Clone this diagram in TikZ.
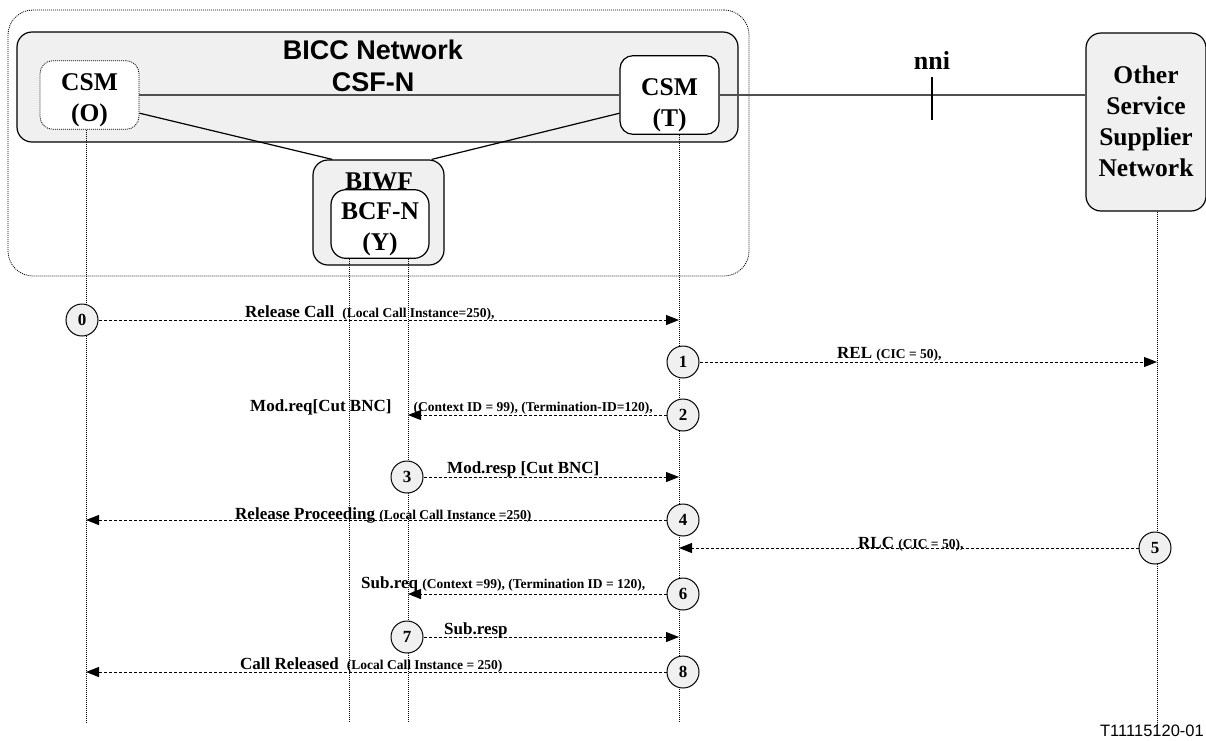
\documentclass[tikz,border=0pt]{standalone}
\usepackage{fontspec}
\setmainfont{Liberation Serif}
\newfontfamily\arialfont{Liberation Sans}
\usetikzlibrary{arrows.meta,positioning}
\definecolor{boxfill}{HTML}{F0F0F0}
\definecolor{linkgray}{HTML}{505050}
\newcommand\argtext[1]{{\fontsize{13.5}{15}\selectfont #1}}

\begin{document}
\begin{tikzpicture}[x=1pt,y=-1pt,
  entity/.style={draw,rounded corners=13pt,line width=1.2pt,align=center,
    font=\fontsize{25.5}{31}\selectfont\bfseries},
  lifeline/.style={line width=0.9pt,dash pattern=on 1pt off 1pt},
  msg/.style={line width=1pt,dash pattern=on 3pt off 2pt,
    -{Triangle[length=13pt,width=10pt]}},
  numdot/.style={circle,draw,fill=boxfill,line width=1pt,minimum size=32pt,
    inner sep=0pt,font=\fontsize{17}{17}\selectfont\bfseries},
  msglabel/.style={anchor=base west,inner sep=0pt,
    font=\fontsize{17}{20}\selectfont\bfseries}]
  \useasboundingbox (0,0) rectangle (1206,740);
  % network boxes
  \node[draw,rounded corners=25pt,line width=0.8pt,dash pattern=on 1pt off 1pt,
    minimum width=741pt,minimum height=266pt] (domain) at (378.5,143) {};
  \node[entity,fill=boxfill,rounded corners=15pt,
    minimum width=721pt,minimum height=110pt] (bicc) at (377.5,87) {};
  \node[align=center,font=\arialfont\fontsize{27}{32}\selectfont\bfseries]
    (biccname) at (373,66) {BICC Network\\CSF-N};
  \node[entity,fill=white,line width=0.8pt,dash pattern=on 1pt off 1pt,
    minimum width=99pt,minimum height=66pt,text height=57pt,text depth=5pt]
    (csmO) at (89.5,95) {CSM\\(O)};
  \node[entity,fill=white,minimum width=99pt,minimum height=66pt,
    text height=67pt,text depth=5pt] (csmT) at (669.5,95) {CSM\\(T)};
  \node[entity,fill=boxfill,rounded corners=15pt,minimum width=120pt,
    minimum height=178pt,text height=113pt,text depth=5pt]
    (other) at (1146,122) {Other\\Service\\Supplier\\Network};
  \node[entity,fill=boxfill,rounded corners=15pt,minimum width=131pt,
    minimum height=105pt] (biwf) at (378.5,212.5) {};
  \node[anchor=base,inner sep=0pt,font=\fontsize{25.5}{31}\selectfont\bfseries]
    (biwfname) at (379,189) {BIWF};
  \node[entity,fill=white,rounded corners=15pt,minimum width=98pt,
    minimum height=64pt,text height=57pt,text depth=5pt]
    (bcf) at (380,224) {BCF-N\\(Y)};
  % links between the functions
  \draw[linkgray,line width=1.6pt] (csmO.east) -- (csmT.west);
  \draw[linkgray,line width=1.6pt] (csmT.east) -- (csmT.east -| other.west);
  \draw[line width=1.2pt] (csmO.-20) -- (biwf.131);
  \draw[line width=1.2pt] (csmT.200) -- (biwf.45.5);
  \coordinate (nni) at (932,95);
  \draw[line width=1.2pt] (nni) ++(0,-18) coordinate (nnitop) -- ++(0,43);
  \node[above=7pt of nnitop,inner sep=0pt,font=\fontsize{26}{30}\selectfont\bfseries]
    (nnilabel) {nni};
  % lifelines
  \coordinate (endO) at (86,722);
  \coordinate (endYl) at (349,722);
  \coordinate (endYr) at (408,722);
  \coordinate (endT) at (679,722);
  \coordinate (endX) at (1157,725);
  \draw[lifeline] (csmO.south -| endO) -- (endO);
  \draw[lifeline] (bcf.south -| endYl) -- (endYl);
  \draw[lifeline] (bcf.south -| endYr) -- (endYr);
  \draw[lifeline] (csmT.south -| endT) -- (endT);
  \draw[lifeline] (other.south -| endX) -- (endX);
  % message steps
  \foreach \n/\x/\y in {0/82/320,1/683/362,2/683/415,3/407/477,4/683/520,
      5/1155/548,6/683/594,7/407/637,8/683/672}
    \node[numdot] (s\n) at (\x,\y) {\n};
  \foreach \n/\dest in {0/endT,1/endX,2/endYr,3/endT,4/endO,5/endT,6/endYr,
      7/endT,8/endO}
    \draw[msg] (s\n) -- (s\n -| \dest);
  \node[msglabel] (m0) at (245,317)
    {Release Call\hspace{8pt}\argtext{(Local Call Instance=250),}};
  \node[msglabel] (m1) at (837,358) {REL \argtext{(CIC = 50),}};
  \node[msglabel] (m2) at (250,411)
    {Mod.req[Cut BNC]\hspace{22pt}\argtext{(Context ID = 99), (Termination-ID=120),}};
  \node[msglabel] (m3) at (447,473) {Mod.resp [Cut BNC]};
  \node[msglabel] (m4) at (235,519)
    {Release Proceeding \argtext{(Local Call Instance =250)}};
  \node[msglabel] (m5) at (858,548) {RLC \argtext{(CIC = 50),}};
  \node[msglabel] (m6) at (361,588)
    {Sub.req \argtext{(Context =99), (Termination ID = 120),}};
  \node[msglabel] (m7) at (444,634) {Sub.resp};
  \node[msglabel] (m8) at (240,669)
    {Call Released\hspace{8pt}\argtext{(Local Call Instance = 250)}};
  \node[anchor=base east,inner sep=0pt,font=\arialfont\fontsize{16.5}{18}\selectfont]
    (figid) at (1204,736) {T11115120-01};
\end{tikzpicture}
\end{document}
